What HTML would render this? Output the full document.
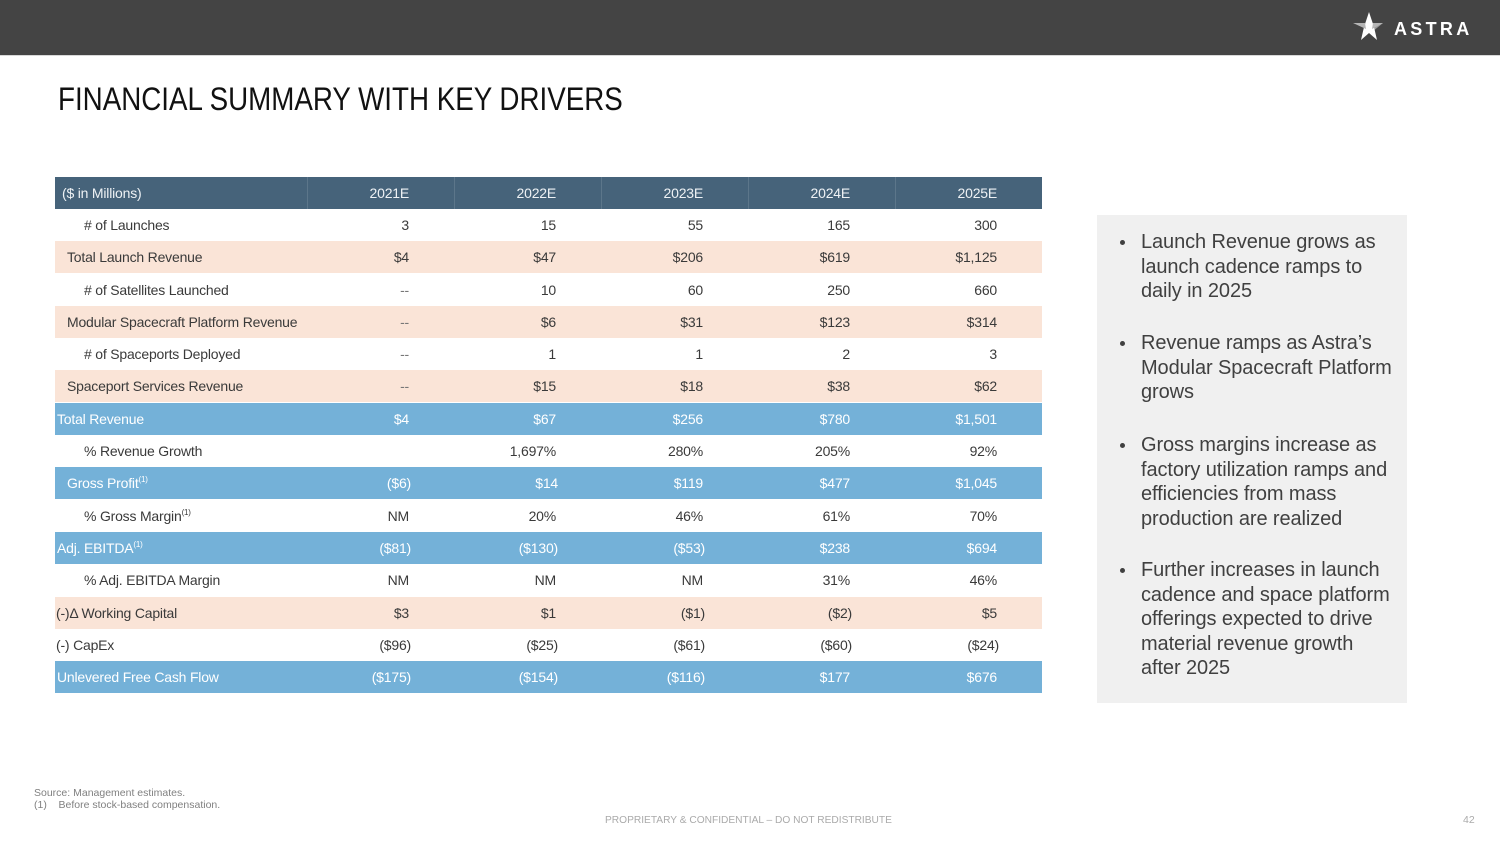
<!DOCTYPE html>
<html>
<head>
<meta charset="utf-8">
<style>
  html,body{margin:0;padding:0;}
  body{width:1500px;height:843px;position:relative;overflow:hidden;background:#fff;font-family:"Liberation Sans",sans-serif;}
  .topbar{position:absolute;left:0;top:0;width:1500px;height:55px;background:#444444;border-bottom:1px solid #d8d8d8;}
  .logo-text{position:absolute;left:1394px;top:18px;font-size:18px;font-weight:bold;color:#fff;letter-spacing:3.3px;line-height:22px;}
  .title{position:absolute;left:58px;top:80px;font-size:32px;line-height:38px;color:#111;white-space:nowrap;transform:scaleX(0.867);transform-origin:left top;}
  .row{position:absolute;left:55px;width:987px;height:32px;font-size:14px;line-height:32px;color:#3a3a3a;letter-spacing:-0.2px;white-space:nowrap;}
  .row .lab{position:absolute;top:0;}
  .row .v{position:absolute;top:0;width:102px;text-align:right;}
  .row .sep{position:absolute;top:0;width:1px;height:32px;}
  .hdr{background:#46637a;color:#eef2f5;}
  .peach{background:#fae4d7;}
  .blue{background:#74b1d8;color:#fff;}
  .wht{background:#fff;}
  .dash{color:#777;}
  sup{font-size:8px;line-height:0;vertical-align:6px;}
  .panel{position:absolute;left:1097px;top:215px;width:310px;height:488px;background:#f0f0f0;}
  .bul{position:absolute;left:1141px;font-size:20px;line-height:24.5px;color:#404040;white-space:nowrap;letter-spacing:-0.1px;}
  .dot{position:absolute;left:-21px;top:10px;width:5px;height:5px;border-radius:50%;background:#404040;}
  .src{position:absolute;left:34px;top:787px;font-size:10.5px;line-height:12px;color:#808080;white-space:nowrap;}
  .foot{position:absolute;left:605px;top:814px;font-size:10.5px;color:#aaaaaa;white-space:nowrap;transform:scaleX(0.97);transform-origin:left top;}
  .pg{position:absolute;left:1463px;top:814px;font-size:10.5px;color:#aaaaaa;}
</style>
</head>
<body>
<div class="topbar"></div>
<svg style="position:absolute;left:0;top:0" width="1500" height="56">
  <polygon points="1353,23 1366,23 1372,32 1383,23 1370,23" fill="#9a9a9a"/>
  <polygon points="1369,12 1374,27 1377,40 1369,33 1361,40 1364,27" fill="#ffffff"/>
  <polygon points="1353,23 1365,23 1366,29" fill="#b5b5b5"/>
  <polygon points="1383,23 1373,23 1372,29" fill="#b5b5b5"/>
</svg>
<div class="logo-text">ASTRA</div>

<div class="title">FINANCIAL SUMMARY WITH KEY DRIVERS</div>

<!-- header row -->
<div class="row hdr" style="top:177px;">
  <span class="lab" style="left:7px;">($ in Millions)</span>
  <span class="sep" style="left:252px;background:rgba(255,255,255,0.12)"></span>
  <span class="sep" style="left:399px;background:rgba(255,255,255,0.12)"></span>
  <span class="sep" style="left:546px;background:rgba(255,255,255,0.12)"></span>
  <span class="sep" style="left:693px;background:rgba(255,255,255,0.12)"></span>
  <span class="sep" style="left:840px;background:rgba(255,255,255,0.12)"></span>
  <span class="v" style="left:252px;">2021E</span>
  <span class="v" style="left:399px;">2022E</span>
  <span class="v" style="left:546px;">2023E</span>
  <span class="v" style="left:693px;">2024E</span>
  <span class="v" style="left:840px;">2025E</span>
</div>

<div class="row wht" style="top:209px;">
  <span class="lab" style="left:29px;"># of Launches</span>
  <span class="v" style="left:252px;">3</span><span class="v" style="left:399px;">15</span><span class="v" style="left:546px;">55</span><span class="v" style="left:693px;">165</span><span class="v" style="left:840px;">300</span>
</div>
<div class="row peach" style="top:241px;">
  <span class="lab" style="left:12px;">Total Launch Revenue</span>
  <span class="v" style="left:252px;">$4</span><span class="v" style="left:399px;">$47</span><span class="v" style="left:546px;">$206</span><span class="v" style="left:693px;">$619</span><span class="v" style="left:840px;">$1,125</span>
</div>
<div class="row wht" style="top:274px;">
  <span class="lab" style="left:29px;"># of Satellites Launched</span>
  <span class="v dash" style="left:252px;">--</span><span class="v" style="left:399px;">10</span><span class="v" style="left:546px;">60</span><span class="v" style="left:693px;">250</span><span class="v" style="left:840px;">660</span>
</div>
<div class="row peach" style="top:306px;">
  <span class="lab" style="left:12px;">Modular Spacecraft Platform Revenue</span>
  <span class="v dash" style="left:252px;">--</span><span class="v" style="left:399px;">$6</span><span class="v" style="left:546px;">$31</span><span class="v" style="left:693px;">$123</span><span class="v" style="left:840px;">$314</span>
</div>
<div class="row wht" style="top:338px;">
  <span class="lab" style="left:29px;"># of Spaceports Deployed</span>
  <span class="v dash" style="left:252px;">--</span><span class="v" style="left:399px;">1</span><span class="v" style="left:546px;">1</span><span class="v" style="left:693px;">2</span><span class="v" style="left:840px;">3</span>
</div>
<div class="row peach" style="top:370px;">
  <span class="lab" style="left:12px;">Spaceport Services Revenue</span>
  <span class="v dash" style="left:252px;">--</span><span class="v" style="left:399px;">$15</span><span class="v" style="left:546px;">$18</span><span class="v" style="left:693px;">$38</span><span class="v" style="left:840px;">$62</span>
</div>
<div class="row blue" style="top:403px;">
  <span class="lab" style="left:2px;">Total Revenue</span>
  <span class="v" style="left:252px;">$4</span><span class="v" style="left:399px;">$67</span><span class="v" style="left:546px;">$256</span><span class="v" style="left:693px;">$780</span><span class="v" style="left:840px;">$1,501</span>
</div>
<div class="row wht" style="top:435px;">
  <span class="lab" style="left:29px;">% Revenue Growth</span>
  <span class="v" style="left:399px;">1,697%</span><span class="v" style="left:546px;">280%</span><span class="v" style="left:693px;">205%</span><span class="v" style="left:840px;">92%</span>
</div>
<div class="row blue" style="top:467px;">
  <span class="lab" style="left:12px;">Gross Profit<sup>(1)</sup></span>
  <span class="v" style="left:254px;">($6)</span><span class="v" style="left:401px;">$14</span><span class="v" style="left:546px;">$119</span><span class="v" style="left:693px;">$477</span><span class="v" style="left:840px;">$1,045</span>
</div>
<div class="row wht" style="top:500px;">
  <span class="lab" style="left:29px;">% Gross Margin<sup>(1)</sup></span>
  <span class="v" style="left:252px;">NM</span><span class="v" style="left:399px;">20%</span><span class="v" style="left:546px;">46%</span><span class="v" style="left:693px;">61%</span><span class="v" style="left:840px;">70%</span>
</div>
<div class="row blue" style="top:532px;">
  <span class="lab" style="left:2px;">Adj. EBITDA<sup>(1)</sup></span>
  <span class="v" style="left:254px;">($81)</span><span class="v" style="left:401px;">($130)</span><span class="v" style="left:548px;">($53)</span><span class="v" style="left:693px;">$238</span><span class="v" style="left:840px;">$694</span>
</div>
<div class="row wht" style="top:564px;">
  <span class="lab" style="left:29px;">% Adj. EBITDA Margin</span>
  <span class="v" style="left:252px;">NM</span><span class="v" style="left:399px;">NM</span><span class="v" style="left:546px;">NM</span><span class="v" style="left:693px;">31%</span><span class="v" style="left:840px;">46%</span>
</div>
<div class="row peach" style="top:597px;">
  <span class="lab" style="left:1px;">(-)Δ Working Capital</span>
  <span class="v" style="left:252px;">$3</span><span class="v" style="left:399px;">$1</span><span class="v" style="left:548px;">($1)</span><span class="v" style="left:695px;">($2)</span><span class="v" style="left:840px;">$5</span>
</div>
<div class="row wht" style="top:629px;">
  <span class="lab" style="left:1px;">(-) CapEx</span>
  <span class="v" style="left:254px;">($96)</span><span class="v" style="left:401px;">($25)</span><span class="v" style="left:548px;">($61)</span><span class="v" style="left:695px;">($60)</span><span class="v" style="left:842px;">($24)</span>
</div>
<div class="row blue" style="top:661px;">
  <span class="lab" style="left:2px;">Unlevered Free Cash Flow</span>
  <span class="v" style="left:254px;">($175)</span><span class="v" style="left:401px;">($154)</span><span class="v" style="left:548px;">($116)</span><span class="v" style="left:693px;">$177</span><span class="v" style="left:840px;">$676</span>
</div>

<div class="panel"></div>
<div class="bul" style="top:230px;"><span class="dot"></span>Launch Revenue grows as<br>launch cadence ramps to<br>daily in 2025</div>
<div class="bul" style="top:331px;"><span class="dot"></span>Revenue ramps as Astra’s<br>Modular Spacecraft Platform<br>grows</div>
<div class="bul" style="top:433px;"><span class="dot"></span>Gross margins increase as<br>factory utilization ramps and<br>efficiencies from mass<br>production are realized</div>
<div class="bul" style="top:558px;"><span class="dot"></span>Further increases in launch<br>cadence and space platform<br>offerings expected to drive<br>material revenue growth<br>after 2025</div>

<div class="src">Source: Management estimates.<br>(1)&nbsp;&nbsp;&nbsp;&nbsp;Before stock-based compensation.</div>
<div class="foot">PROPRIETARY &amp; CONFIDENTIAL – DO NOT REDISTRIBUTE</div>
<div class="pg">42</div>
</body>
</html>
